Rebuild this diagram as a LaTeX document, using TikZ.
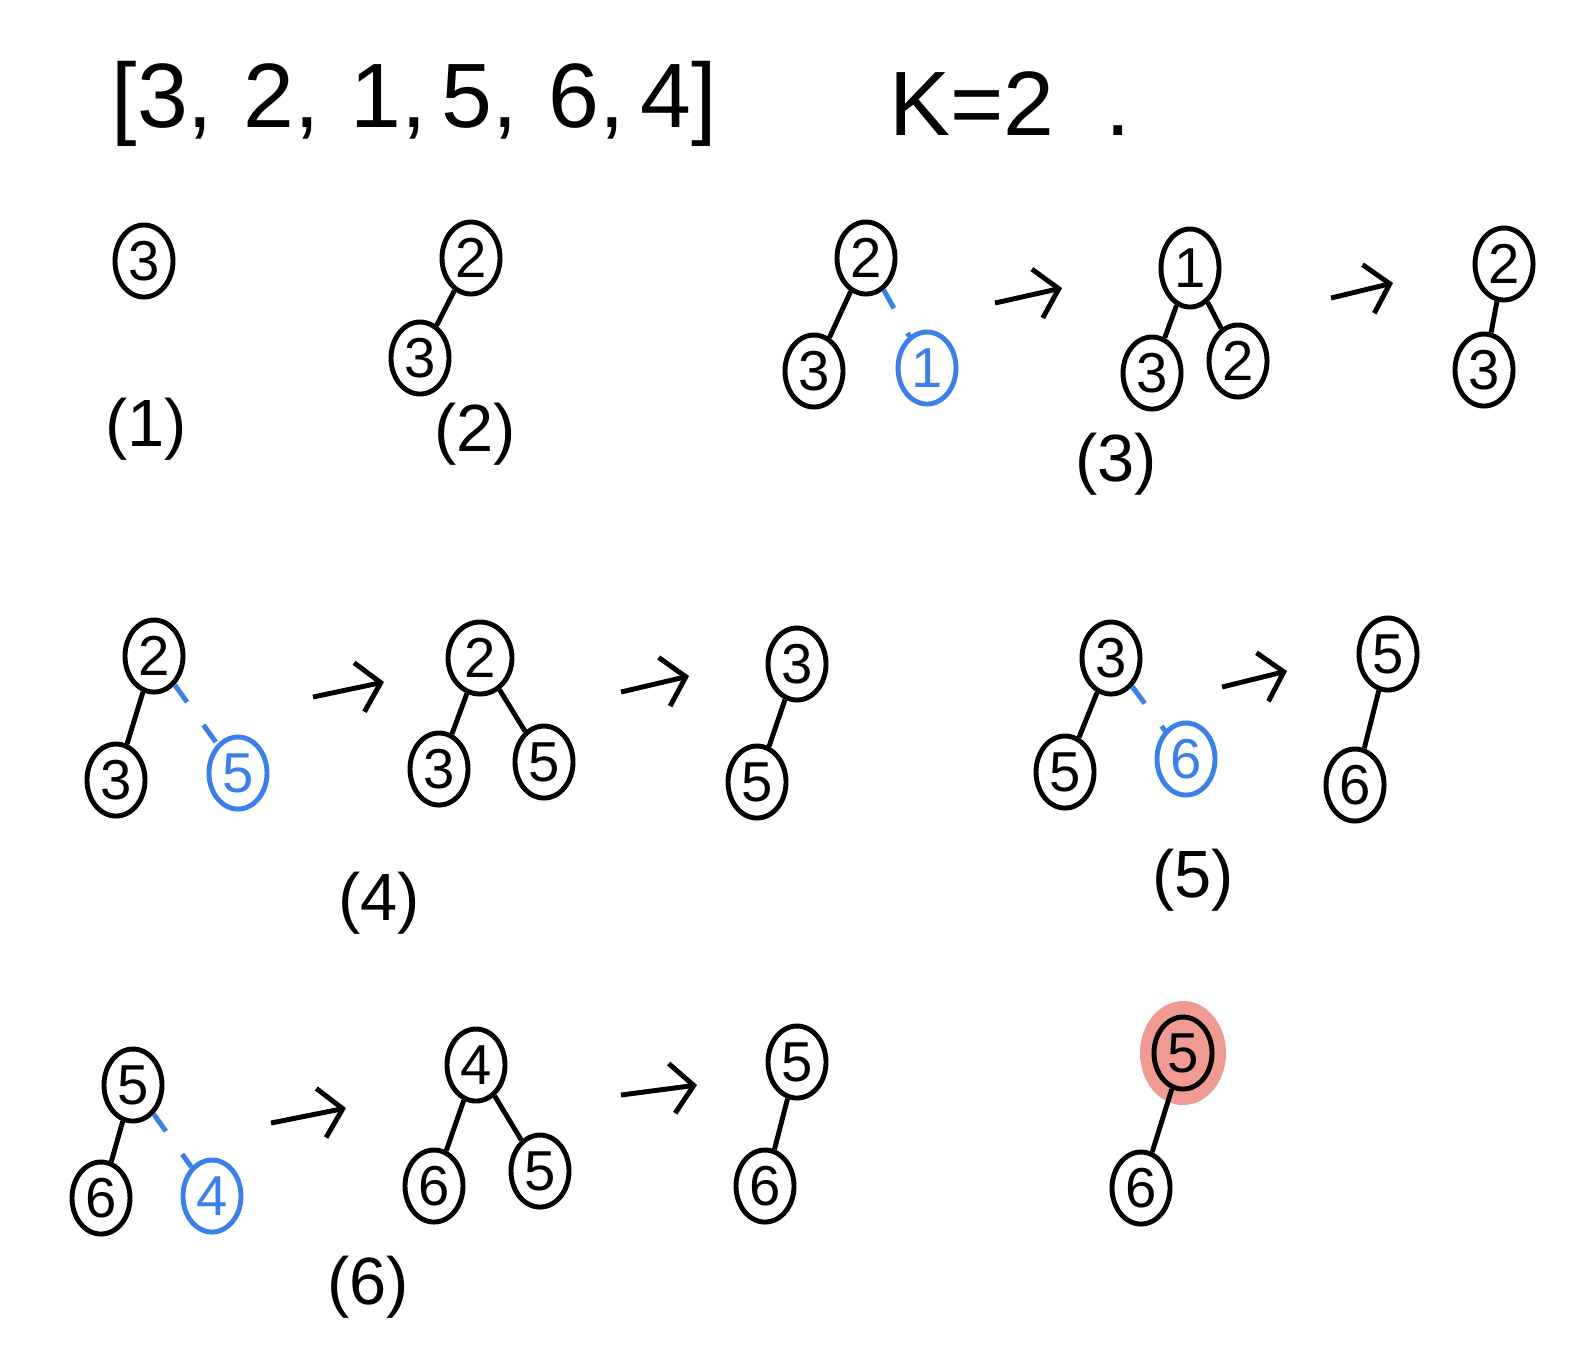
\documentclass[tikz,border=0pt]{standalone}
\usepackage{fontspec}
\setmainfont{Liberation Sans}
\usetikzlibrary{shapes.geometric,arrows.meta}
\definecolor{penblue}{HTML}{3B7FEA}
\definecolor{marker}{HTML}{EF9A92}
\tikzset{
  hnode/.style={draw,ellipse,line width=1.4pt,minimum width=0.58cm,minimum height=0.72cm,inner sep=0pt,font=\fontsize{16}{18}\selectfont},
  newnode/.style={hnode,draw=penblue,text=penblue},
  blob/.style={ellipse,fill=marker,minimum width=0.86cm,minimum height=1.04cm},
  edge/.style={line width=1.4pt},
  newedge/.style={line width=1.4pt,penblue,dash pattern=on 6pt off 8pt},
  trans/.style={line width=1.4pt,-{Straight Barb[length=2.2mm,width=5mm]}},
  steplabel/.style={font=\fontsize{19}{21}\selectfont}
}
\begin{document}
\begin{tikzpicture}[x=0.01cm,y=-0.01cm]
\useasboundingbox (0,0) rectangle (1583,1365);
\node[font=\fontsize{26}{28}\selectfont] (arr) at (414,104) {[3,\,\,2,\,\,1,\,5,\,\,6,\,4]};
\node[font=\fontsize{26}{28}\selectfont] (kval) at (1010,104) {K=2\ \ .};
% (1)
\node[hnode] (s1r) at (144,261) {3};
\node[steplabel] (l1) at (146,429) {(1)};
% (2)
\node[hnode] (s2r) at (471,258) {2};
\node[hnode] (s2l) at (420,358) {3};
\draw[edge] (s2r) -- (s2l);
\node[steplabel] (l2) at (475,434) {(2)};
% (3)
\node[hnode] (s3r) at (866,258) {2};
\node[hnode] (s3l) at (814,371) {3};
\node[newnode] (s3n) at (927,368) {1};
\draw[edge] (s3r) -- (s3l);
\draw[newedge] (s3r) -- (s3n);
\coordinate (a3s) at (995,303);
\coordinate (a3e) at (1062,288);
\draw[trans] (a3s) -- (a3e);
\node[hnode,minimum height=0.78cm] (s3br) at (1190,268) {1};
\node[hnode] (s3bl) at (1152,373) {3};
\node[hnode] (s3bq) at (1238,361) {2};
\draw[edge] (s3br) -- (s3bl);
\draw[edge] (s3br) -- (s3bq);
\coordinate (b3s) at (1331,298);
\coordinate (b3e) at (1393,283);
\draw[trans] (b3s) -- (b3e);
\node[hnode] (s3cr) at (1504,264) {2};
\node[hnode] (s3cl) at (1484,370) {3};
\draw[edge] (s3cr) -- (s3cl);
\node[steplabel] (l3) at (1116,464) {(3)};
% (4)
\node[hnode] (s4r) at (154,656) {2};
\node[hnode] (s4l) at (116,780) {3};
\node[newnode] (s4n) at (238,773) {5};
\draw[edge] (s4r) -- (s4l);
\draw[newedge] (s4r) -- (s4n);
\coordinate (a4s) at (313,697);
\coordinate (a4e) at (384,682);
\draw[trans] (a4s) -- (a4e);
\node[hnode,minimum width=0.64cm] (s4br) at (480,658) {2};
\node[hnode] (s4bl) at (439,769) {3};
\node[hnode] (s4bq) at (544,762) {5};
\draw[edge] (s4br) -- (s4bl);
\draw[edge] (s4br) -- (s4bq);
\coordinate (b4s) at (621,692);
\coordinate (b4e) at (689,676);
\draw[trans] (b4s) -- (b4e);
\node[hnode] (s4cr) at (797,664) {3};
\node[hnode] (s4cl) at (757,782) {5};
\draw[edge] (s4cr) -- (s4cl);
\node[steplabel] (l4) at (379,903) {(4)};
% (5)
\node[hnode] (s5r) at (1111,658) {3};
\node[hnode] (s5l) at (1065,772) {5};
\node[newnode] (s5n) at (1186,759) {6};
\draw[edge] (s5r) -- (s5l);
\draw[newedge] (s5r) -- (s5n);
\coordinate (a5s) at (1222,687);
\coordinate (a5e) at (1287,671);
\draw[trans] (a5s) -- (a5e);
\node[hnode] (s5br) at (1388,654) {5};
\node[hnode] (s5bl) at (1355,785) {6};
\draw[edge] (s5br) -- (s5bl);
\node[steplabel] (l5) at (1193,880) {(5)};
% (6)
\node[hnode] (s6r) at (133,1085) {5};
\node[hnode] (s6l) at (101,1198) {6};
\node[newnode] (s6n) at (212,1196) {4};
\draw[edge] (s6r) -- (s6l);
\draw[newedge] (s6r) -- (s6n);
\coordinate (a6s) at (271,1123);
\coordinate (a6e) at (346,1108);
\draw[trans] (a6s) -- (a6e);
\node[hnode] (s6br) at (476,1065) {4};
\node[hnode] (s6bl) at (434,1186) {6};
\node[hnode] (s6bq) at (540,1171) {5};
\draw[edge] (s6br) -- (s6bl);
\draw[edge] (s6br) -- (s6bq);
\coordinate (b6s) at (621,1095);
\coordinate (b6e) at (697,1085);
\draw[trans] (b6s) -- (b6e);
\node[hnode] (s6cr) at (797,1062) {5};
\node[hnode] (s6cl) at (765,1186) {6};
\draw[edge] (s6cr) -- (s6cl);
% answer
\node[blob] (s6dh) at (1183,1053) {};
\node[hnode] (s6dr) at (1183,1053) {5};
\node[hnode] (s6dl) at (1141,1188) {6};
\draw[edge] (s6dr) -- (s6dl);
\node[steplabel] (l6) at (368,1287) {(6)};
\end{tikzpicture}
\end{document}
